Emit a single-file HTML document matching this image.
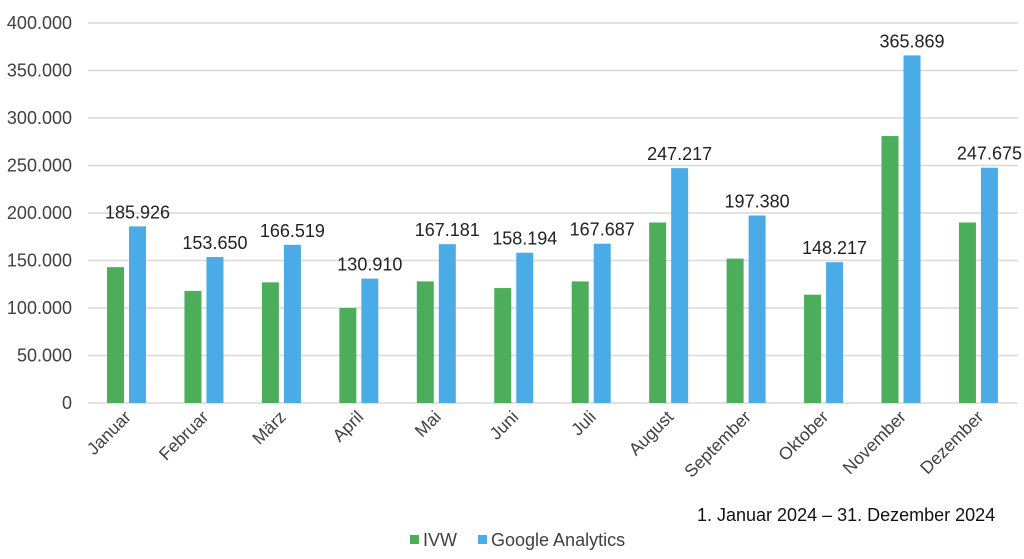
<!DOCTYPE html>
<html><head><meta charset="utf-8"><style>
body{margin:0;background:#fff;}
svg text{font-family:"Liberation Sans",Arial,sans-serif;}
</style></head><body>
<svg width="1024" height="554" xmlns="http://www.w3.org/2000/svg">
<g stroke="#d9d9d9" stroke-width="1.5">
<line x1="88" x2="1018" y1="23" y2="23"/><line x1="88" x2="1018" y1="70.5" y2="70.5"/>
<line x1="88" x2="1018" y1="118" y2="118"/><line x1="88" x2="1018" y1="165.5" y2="165.5"/>
<line x1="88" x2="1018" y1="213" y2="213"/><line x1="88" x2="1018" y1="260.5" y2="260.5"/>
<line x1="88" x2="1018" y1="308" y2="308"/><line x1="88" x2="1018" y1="355.5" y2="355.5"/>
<line x1="88" x2="1018" y1="403" y2="403"/>
</g>
<g font-size="18" fill="#404040" text-anchor="end">
<text x="72" y="29">400.000</text><text x="72" y="76.5">350.000</text><text x="72" y="124">300.000</text>
<text x="72" y="171.5">250.000</text><text x="72" y="219">200.000</text><text x="72" y="266.5">150.000</text>
<text x="72" y="314">100.000</text><text x="72" y="361.5">50.000</text><text x="72" y="409">0</text>
</g>
<g fill="#4cae5a">
<rect x="107" y="267.15" width="17" height="135.85"/>
<rect x="184.45" y="290.9" width="17" height="112.1"/>
<rect x="261.9" y="282.35" width="17" height="120.65"/>
<rect x="339.35" y="308" width="17" height="95"/>
<rect x="416.8" y="281.4" width="17" height="121.6"/>
<rect x="494.25" y="288.05" width="17" height="114.95"/>
<rect x="571.7" y="281.4" width="17" height="121.6"/>
<rect x="649.15" y="222.5" width="17" height="180.5"/>
<rect x="726.6" y="258.6" width="17" height="144.4"/>
<rect x="804.05" y="294.7" width="17" height="108.3"/>
<rect x="881.5" y="136.05" width="17" height="266.95"/>
<rect x="958.95" y="222.5" width="17" height="180.5"/>
</g>
<g fill="#4aabe6">
<rect x="129" y="226.37" width="17" height="176.63"/>
<rect x="206.45" y="257.03" width="17" height="145.97"/>
<rect x="283.9" y="244.81" width="17" height="158.19"/>
<rect x="361.35" y="278.64" width="17" height="124.36"/>
<rect x="438.8" y="244.18" width="17" height="158.82"/>
<rect x="516.25" y="252.72" width="17" height="150.28"/>
<rect x="593.7" y="243.7" width="17" height="159.3"/>
<rect x="671.15" y="168.14" width="17" height="234.86"/>
<rect x="748.6" y="215.49" width="17" height="187.51"/>
<rect x="826.05" y="262.19" width="17" height="140.81"/>
<rect x="903.5" y="55.42" width="17" height="347.58"/>
<rect x="980.95" y="167.71" width="17" height="235.29"/>
</g>
<g font-size="18" fill="#222" text-anchor="middle">
<text x="137.5" y="218.4">185.926</text>
<text x="214.95" y="249">153.650</text>
<text x="292.4" y="236.8">166.519</text>
<text x="369.85" y="270.6">130.910</text>
<text x="447.3" y="236.2">167.181</text>
<text x="524.75" y="244.7">158.194</text>
<text x="602.2" y="235.7">167.687</text>
<text x="679.65" y="160.1">247.217</text>
<text x="757.1" y="207.5">197.380</text>
<text x="834.55" y="254.2">148.217</text>
<text x="912" y="47.4">365.869</text>
<text x="989.45" y="159.7">247.675</text>
</g>
<text x="697" y="521" font-size="18" fill="#111">1. Januar 2024 – 31. Dezember 2024</text>
<rect x="410" y="535" width="9" height="9" fill="#4cae5a"/>
<text x="423" y="546" font-size="18" fill="#404040">IVW</text>
<rect x="478" y="535" width="9" height="9" fill="#4aabe6"/>
<text x="491" y="546" font-size="18" fill="#404040">Google Analytics</text>
<g font-size="17.5" fill="#404040" text-anchor="end">
<text transform="translate(132,418) rotate(-45)">Januar</text>
<text transform="translate(209.5,418) rotate(-45)">Februar</text>
<text transform="translate(287,418) rotate(-45)">März</text>
<text transform="translate(364.5,418) rotate(-45)">April</text>
<text transform="translate(442,418) rotate(-45)">Mai</text>
<text transform="translate(519.5,418) rotate(-45)">Juni</text>
<text transform="translate(597,418) rotate(-45)">Juli</text>
<text transform="translate(674.5,418) rotate(-45)">August</text>
<text transform="translate(752,418) rotate(-45)">September</text>
<text transform="translate(829.5,418) rotate(-45)">Oktober</text>
<text transform="translate(907,418) rotate(-45)">November</text>
<text transform="translate(984.5,418) rotate(-45)">Dezember</text>
</g>
</svg>
</body></html>
